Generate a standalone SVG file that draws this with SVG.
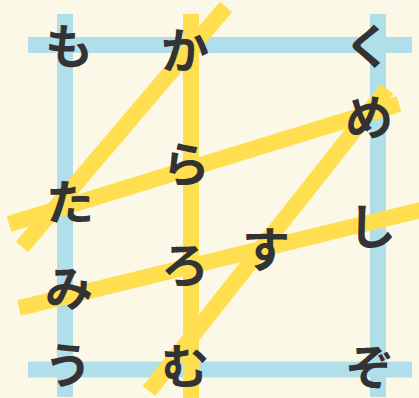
<svg xmlns="http://www.w3.org/2000/svg" width="419" height="398" viewBox="0 0 419 398">
<style>
.bg{fill:#fcf8e8}
.blue{stroke:#b0dfea;stroke-width:16;stroke-linecap:butt;fill:none}
.yel{stroke:#ffdf4f;stroke-width:16;stroke-linecap:butt;fill:none}
.ch{font-family:"Noto Sans CJK JP","Noto Sans CJK SC",sans-serif;font-size:48px;font-weight:700;fill:#333333;text-anchor:middle}
</style>
<rect class="bg" x="0" y="0" width="419" height="398"/>
<g id="connectors">
<g id="grid">
<line class="blue" x1="28" y1="45" x2="412" y2="45"/>
<line class="blue" x1="28" y1="369.5" x2="412" y2="369.5"/>
<line class="blue" x1="65" y1="14" x2="65" y2="397"/>
<line class="blue" x1="378" y1="14" x2="378" y2="397"/>
</g>
<g id="strokes">
<line class="yel" x1="191" y1="14" x2="191" y2="398"/>
<line class="yel" x1="226" y1="7" x2="22" y2="247"/>
<line class="yel" x1="9" y1="224" x2="399" y2="104"/>
<line class="yel" x1="19" y1="308" x2="425" y2="209"/>
<line class="yel" x1="387" y1="89" x2="149" y2="391"/>
</g>
</g>
<g id="n-mo"><text class="ch" x="69" y="64">も</text></g>
<g id="n-ka"><text class="ch" x="185" y="68">か</text></g>
<g id="n-ku"><text class="ch" x="368" y="64">く</text></g>
<g id="n-me"><text class="ch" x="369" y="135">め</text></g>
<g id="n-ra"><text class="ch" x="186" y="182">ら</text></g>
<g id="n-ta"><text class="ch" x="70" y="220">た</text></g>
<g id="n-shi"><text class="ch" x="372" y="244">し</text></g>
<g id="n-su"><text class="ch" x="266" y="267">す</text></g>
<g id="n-ro"><text class="ch" x="185" y="283">ろ</text></g>
<g id="n-mi"><text class="ch" x="69" y="306">み</text></g>
<g id="n-u"><text class="ch" x="68" y="383">う</text></g>
<g id="n-mu"><text class="ch" x="185" y="384">む</text></g>
<g id="n-zo"><text class="ch" x="370" y="385">ぞ</text></g>
</svg>
